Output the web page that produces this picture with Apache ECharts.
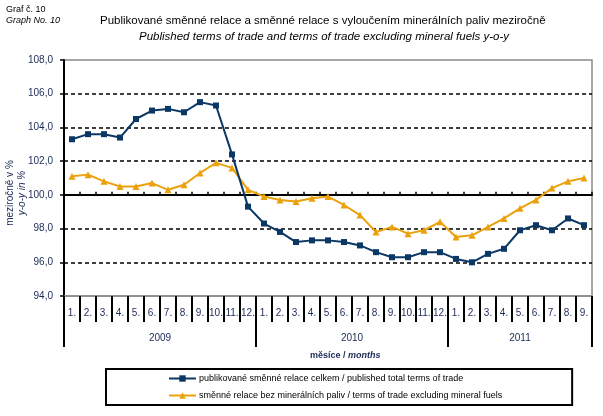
<!DOCTYPE html>
<html><head><meta charset="utf-8">
<script src="https://cdn.jsdelivr.net/npm/echarts@6/dist/echarts.min.js"></script>
<style>html,body{margin:0;padding:0;background:#fff}#c{width:603px;height:416px}</style>
</head><body><div id="c"></div>
<script>
const monthLabels = ['1.','2.','3.','4.','5.','6.','7.','8.','9.','10.','11.','12.',
                     '1.','2.','3.','4.','5.','6.','7.','8.','9.','10.','11.','12.',
                     '1.','2.','3.','4.','5.','6.','7.','8.','9.'];
const years = ['2009','2010','2011'];
const monthsPerYear = [12, 12, 9];
const totalTerms = [103.3,103.6,103.6,103.4,104.5,105.0,105.1,104.9,105.5,105.3,102.4,99.3,
                    98.3,97.8,97.2,97.3,97.3,97.2,97.0,96.6,96.3,96.3,96.6,96.6,
                    96.2,96.0,96.5,96.8,97.9,98.2,97.9,98.6,98.2];
const exclFuels = [101.1,101.2,100.8,100.5,100.5,100.7,100.3,100.6,101.3,101.9,101.6,100.3,
                   99.9,99.7,99.6,99.8,99.9,99.4,98.8,97.8,98.1,97.7,97.9,98.4,
                   97.5,97.6,98.1,98.6,99.2,99.7,100.4,100.8,101.0];
const seriesNames = ['publikované směnné relace celkem / published total terms of trade',
                     'směnné relace bez minerálních paliv / terms of trade excluding mineral fuels'];
const yMin = 94, yMax = 108, yStep = 2, yBase = 100;

const FONT = '"Liberation Sans", Arial, sans-serif';
const LABEL = '#1b2a55';
const BLUE = '#0b3764', ORANGE = '#eba10c';

// year boundaries and centres
const bounds = [0];
monthsPerYear.forEach(m => bounds.push(bounds[bounds.length - 1] + m));
const centres = years.map((y, i) => (bounds[i] + bounds[i + 1]) / 2);
const nCat = monthLabels.length;

const chart = echarts.init(document.getElementById('c'), null, {renderer: 'canvas'});
const gridTop = 60, gridH = 236;
chart.setOption({
  animation: false,
  backgroundColor: '#fff',
  textStyle: {fontFamily: FONT},
  title: [
    {text: 'Graf č. 10', left: 4, top: 3, padding: 2, textStyle: {fontSize: 9, fontWeight: 'normal', color: '#000', fontFamily: FONT}},
    {text: 'Graph No. 10', left: 4, top: 14, padding: 2, textStyle: {fontSize: 9, fontWeight: 'normal', fontStyle: 'italic', color: '#000', fontFamily: FONT}},
    {text: 'Publikované směnné relace a směnné relace s vyloučením minerálních paliv meziročně', left: 100, top: 15, padding: 0,
     textStyle: {fontSize: 11.5, fontWeight: 'normal', color: '#000', fontFamily: FONT}},
    {text: 'Published terms of trade and terms of trade excluding mineral fuels y-o-y', left: 139, top: 31, padding: 0,
     textStyle: {fontSize: 11.5, fontWeight: 'normal', fontStyle: 'italic', color: '#000', fontFamily: FONT}},
    {text: '{a|měsíce / }{b|months}', left: 310, top: 351, padding: 0,
     textStyle: {rich: {a: {fontSize: 9, color: LABEL, fontFamily: FONT}, b: {fontSize: 9, fontStyle: 'italic', color: LABEL, fontFamily: FONT}}}}
  ],
  grid: {left: 64, right: 11, top: gridTop, height: gridH, show: true, borderColor: '#8a8a8a', borderWidth: 1.5,
         containLabel: false, outerBoundsMode: 'none'},
  legend: {
    orient: 'vertical', left: 106, top: 369,
    padding: [5, 70, 5, 62], itemGap: 8, itemWidth: 27, itemHeight: 8,
    borderColor: '#000', borderWidth: 2,
    textStyle: {fontSize: 9, color: '#000', fontFamily: FONT, padding: [0, 0, 0, -2]},
    data: seriesNames
  },
  xAxis: [
    {
      type: 'category', data: monthLabels, position: 'bottom', boundaryGap: true,
      axisLine: {show: true, lineStyle: {color: '#8a8a8a', width: 1.5}},
      axisTick: {show: true, interval: 0, length: 26, inside: false, lineStyle: {color: '#000', width: 2}},
      axisLabel: {interval: 0, margin: 12, fontSize: 10, color: LABEL, fontFamily: FONT},
      splitLine: {show: false}
    },
    {
      type: 'value', min: 0, max: nCat, position: 'bottom',
      axisLine: {show: false},
      axisTick: {show: true, customValues: bounds, length: 51, inside: false, lineStyle: {color: '#000', width: 2}},
      axisLabel: {show: true, customValues: centres, margin: 37, fontSize: 10, color: LABEL, fontFamily: FONT,
                  formatter: v => { const i = centres.indexOf(v); return i >= 0 ? years[i] : ''; }},
      splitLine: {show: false}
    },
    {
      type: 'category', data: monthLabels, position: 'top', boundaryGap: true,
      offset: -gridH * (yMax - yBase) / (yMax - yMin),
      axisLine: {show: true, lineStyle: {color: '#000', width: 2}},
      axisTick: {show: true, interval: 0, length: 3, inside: false, lineStyle: {color: '#000', width: 1.5}},
      axisLabel: {show: false},
      splitLine: {show: false}
    }
  ],
  yAxis: {
    type: 'value', min: yMin, max: yMax, interval: yStep,
    name: '{a|meziročně v %}\n{b|y-o-y in %}', nameLocation: 'middle', nameRotate: 90, nameGap: 36,
    nameMoveOverlap: false,
    nameTextStyle: {padding: [0, 30, 0, 0], rich: {a: {fontSize: 10, color: '#1b2a55', fontFamily: FONT, lineHeight: 12}, b: {fontSize: 10, fontStyle: 'italic', color: '#1b2a55', fontFamily: FONT, lineHeight: 12}}},
    axisLine: {show: true, lineStyle: {color: '#000', width: 2}},
    axisTick: {show: true, length: 4, lineStyle: {color: '#000', width: 1.5}},
    axisLabel: {margin: 11, fontSize: 10, color: LABEL, fontFamily: FONT, formatter: v => v.toFixed(1).replace('.', ',')},
    splitLine: {show: true, showMinLine: false, showMaxLine: false, lineStyle: {color: '#000', width: 1.5, type: [4, 3]}}
  },
  series: [
    {name: seriesNames[0], type: 'line', data: totalTerms, xAxisIndex: 0,
     symbol: 'rect', symbolSize: 6, showAllSymbol: true,
     lineStyle: {color: BLUE, width: 2}, itemStyle: {color: BLUE}, z: 3},
    {name: seriesNames[1], type: 'line', data: exclFuels, xAxisIndex: 0,
     symbol: 'triangle', symbolSize: 7, showAllSymbol: true,
     lineStyle: {color: ORANGE, width: 2}, itemStyle: {color: ORANGE}, z: 2}
  ]
});
</script>
</body></html>
